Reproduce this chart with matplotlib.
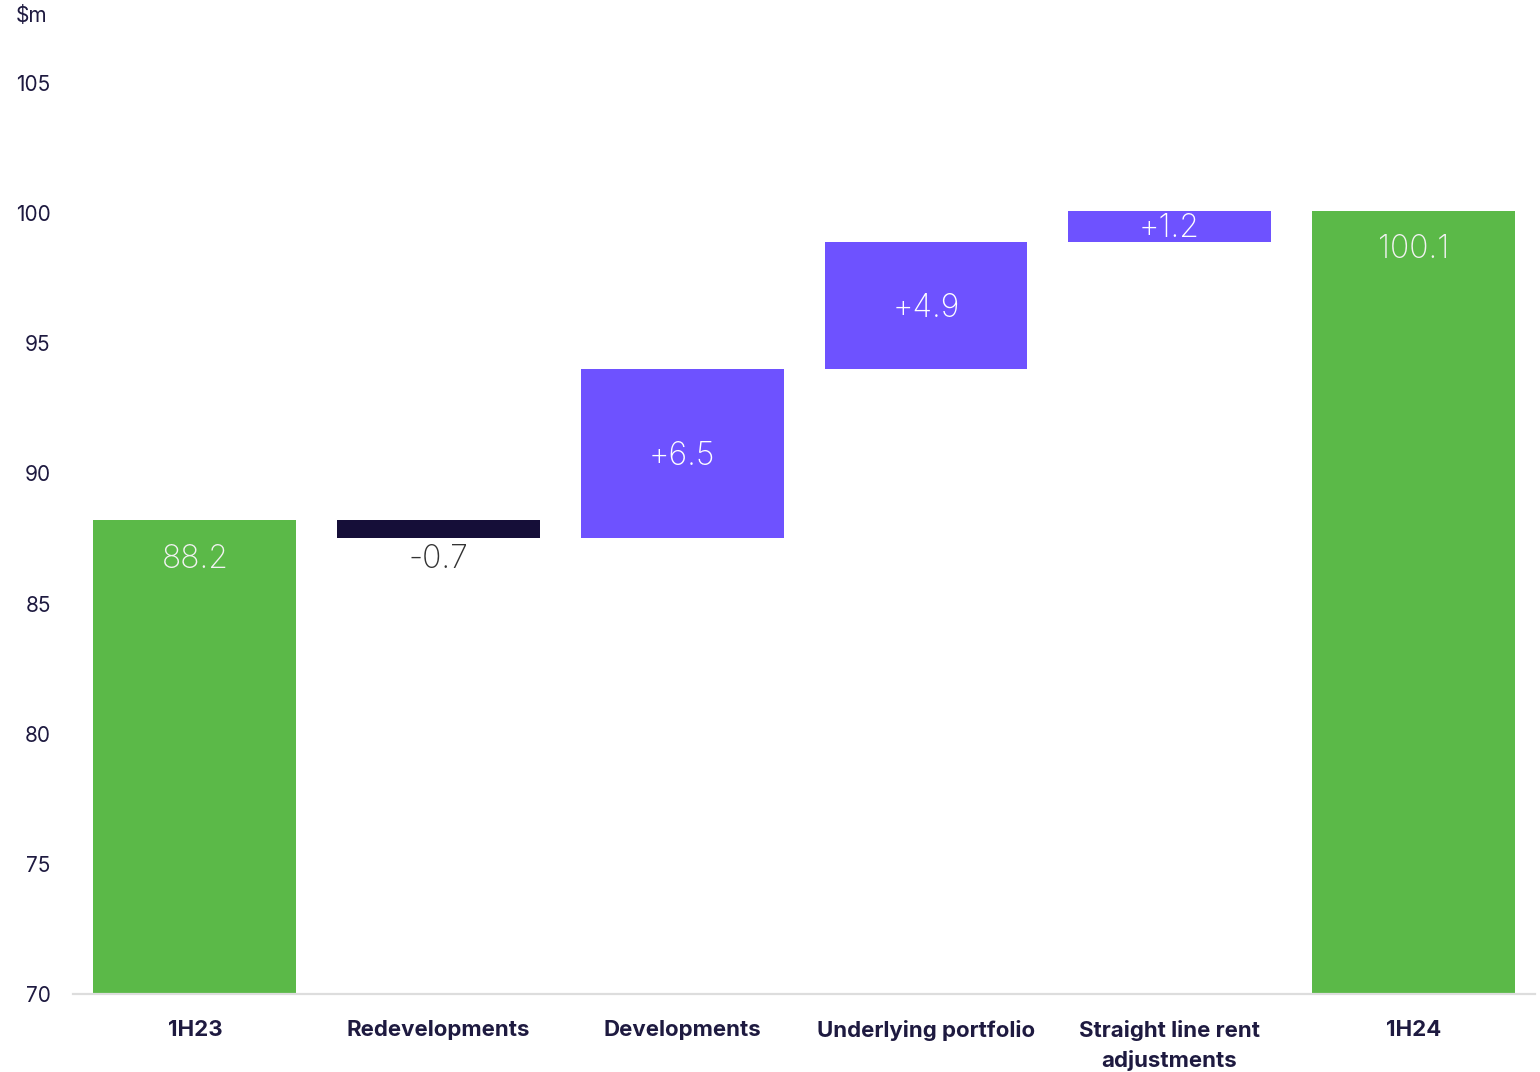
import matplotlib
matplotlib.use("Agg")
import matplotlib.pyplot as plt
import numpy as np

# -----------------------------------------
# data
# -----------------------------------------
categories = ["1H23", "Redevelopments", "Developments", "Underlying portfolio",
              "Straight line rent\nadjustments", "1H24"]
changes = [88.2, -0.7, 6.5, 4.9, 1.2, 100.1]
kinds = ["total", "delta", "delta", "delta", "delta", "total"]
labels = ["88.2", "-0.7", "+6.5", "+4.9", "+1.2", "100.1"]
y_ticks = [70, 75, 80, 85, 90, 95, 100, 105]

GREEN = "#5BB948"
PURPLE = "#6E52FF"
NAVY = "#150E38"
TEXT = "#1E1A40"

plt.rcParams["font.family"] = ["Inter", "DejaVu Sans"]

# -----------------------------------------
# waterfall geometry
# -----------------------------------------
bottoms, heights, colors = [], [], []
running = 0.0
for val, kind in zip(changes, kinds):
    if kind == "total":
        bottoms.append(0)
        heights.append(val)
        colors.append(GREEN)
        running = val
    else:
        start = running
        running = running + val
        bottoms.append(min(start, running))
        heights.append(abs(val))
        colors.append(PURPLE if val > 0 else NAVY)

x = np.arange(len(categories))

fig = plt.figure(figsize=(15.4, 10.72), dpi=100)
ax = fig.add_axes([0.0474, 0.0728, 0.9494, 0.9226])

ax.bar(x, heights, bottom=bottoms, width=0.832, color=colors)

# value labels
for i, (val, kind) in enumerate(zip(changes, kinds)):
    top = bottoms[i] + heights[i]
    if kind == "total":
        ax.annotate(labels[i], (x[i], top), xytext=(0, -28), textcoords="offset points",
                    ha="center", va="center", fontsize=23, color="#F2F2F2",
                    fontweight="light")
    elif val > 0:
        ax.annotate(labels[i], (x[i], bottoms[i] + heights[i] / 2), xytext=(0, -2),
                    textcoords="offset points", ha="center", va="center",
                    fontsize=23, color="white", fontweight="light")
    else:
        ax.annotate(labels[i], (x[i], bottoms[i]), xytext=(0, -15), textcoords="offset points",
                    ha="center", va="center", fontsize=23, color="#333333",
                    fontweight="light")

ax.set_xlim(-0.5, 5.5)
ax.set_ylim(70, 108.0)
ax.set_yticks(y_ticks)
ax.set_yticklabels([str(t) for t in y_ticks], fontsize=15, color=TEXT)
ax.set_xticks(x)
ax.set_xticklabels(categories, fontsize=16, fontweight="bold", color=TEXT, linespacing=1.5)
ax.tick_params(axis="both", length=0)
ax.tick_params(axis="y", pad=16)
ax.tick_params(axis="x", pad=19)

for side in ["top", "right", "left"]:
    ax.spines[side].set_visible(False)
ax.spines["bottom"].set_color("#DDDDDD")
ax.spines["bottom"].set_linewidth(1.6)

fig.text(16 / 1540, 1 - 16 / 1072, "$m", ha="left", va="center", fontsize=15, color=TEXT)

fig.savefig("out.png", dpi=100)
